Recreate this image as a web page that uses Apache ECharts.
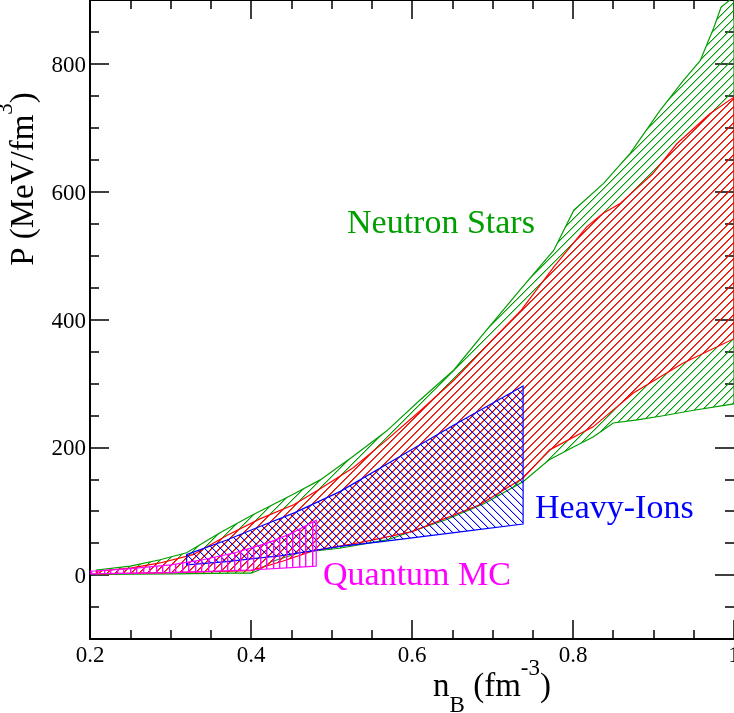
<!DOCTYPE html>
<html><head><meta charset="utf-8">
<script src="https://cdn.jsdelivr.net/npm/echarts@6/dist/echarts.min.js"></script>
<style>html,body{margin:0;padding:0;background:#fff}#c{width:734px;height:713px}</style>
</head><body><div id="c"></div>
<script>
// ---- data (x = n_B in fm^-3, y = P in MeV/fm^3) ----
const nsUpper = [[0.208,8],[0.25,14],[0.287,24],[0.32,35],[0.361,66],[0.40,93],[0.453,127],[0.486,149],[0.527,186],[0.568,225],[0.610,274],[0.652,321],[0.693,384],[0.734,446],[0.776,508],[0.801,571],[0.838,613],[0.871,660],[0.908,727],[0.937,774],[0.958,805],[0.975,857],[0.984,889],[1.0,905]];
const nsLower = [[0.208,1],[0.30,2],[0.38,3],[0.40,3],[0.41,8],[0.425,21],[0.46,35],[0.51,42],[0.569,55],[0.643,87],[0.69,112],[0.738,146],[0.77,180],[0.80,200],[0.825,216],[0.85,238],[0.88,243],[0.91,249],[0.95,258],[0.99,266],[1.0,268]];
const redUpper = [[0.208,6],[0.25,11],[0.287,19],[0.328,32],[0.37,62],[0.411,88],[0.453,110],[0.486,135],[0.527,168],[0.569,212],[0.611,258],[0.652,305],[0.69,355],[0.736,415],[0.776,482],[0.817,545],[0.837,566],[0.858,581],[0.899,628],[0.929,675],[0.97,722],[1.0,748]];
const redLower = [[0.208,2],[0.30,4],[0.40,7],[0.44,22],[0.477,38],[0.54,52],[0.60,68],[0.684,110],[0.738,152],[0.771,196],[0.825,232],[0.875,285],[0.937,332],[1.0,370]];
const hicUpper = [[0.32,32],[0.37,55],[0.411,76],[0.453,97],[0.511,131],[0.569,174],[0.651,234],[0.738,296]];
const hicLower = [[0.32,16],[0.37,21],[0.411,27],[0.436,30],[0.511,45],[0.56,52],[0.65,66],[0.738,80]];
const qmcUpper = [[0.2,6],[0.25,10],[0.30,16],[0.34,24],[0.38,35],[0.42,50],[0.45,65],[0.481,86]];
const qmcLower = [[0.2,2],[0.30,4],[0.40,8],[0.481,14]];
const xMajorTicks = [0.2,0.4,0.6,0.8,1.0];
const yMajorTicks = [0,200,400,600,800];

const X_MIN = 0.2, X_MAX = 1.0, Y_MIN = -100, Y_MAX = 900;
const GREEN = '#009e00', RED = '#ff0000', BLUE = '#0000ff', MAGENTA = '#ff00ff';
const SERIF = '"Liberation Serif"';

function makeHatch(color, kind, alphaNb) {
  const T = kind === 'vert' ? 13 : 8;
  const cv = document.createElement('canvas'); cv.width = T; cv.height = T;
  const ctx = cv.getContext('2d');
  ctx.fillStyle = color;
  if (kind === 'vert') {
    ctx.fillRect(0, 0, 1, T); ctx.fillRect(6, 0, 1, T);
    ctx.globalAlpha = alphaNb; ctx.fillRect(1, 0, 1, T); ctx.fillRect(7, 0, 1, T);
    return cv;
  }
  const px = function (i, j) { ctx.fillRect(((i % T) + T) % T, ((j % T) + T) % T, 1, 1); };
  for (let i = 0; i < T; i++) px(i, kind === 'fwd' ? T - 1 - i : i);
  ctx.globalAlpha = alphaNb;
  for (let i = 0; i < T; i++) px(i + 1, kind === 'fwd' ? T - 1 - i : i);
  return cv;
}

function band(name, upper, lower, color, pattern, z) {
  const verts = upper.concat(lower.slice().reverse());
  return {
    type: 'custom', name: name, coordinateSystem: 'cartesian2d',
    xAxisIndex: 0, yAxisIndex: 0, clip: true, z: z, silent: true,
    data: verts,
    renderItem: function (params, api) {
      if (params.dataIndex !== 0) return null;
      const pts = [];
      for (let i = 0; i < params.dataInsideLength; i++) {
        pts.push(api.coord([api.value(0, i), api.value(1, i)]));
      }
      return {
        type: 'polygon', shape: { points: pts },
        style: { fill: { image: pattern, repeat: 'repeat' }, stroke: color, lineWidth: 1.2 }
      };
    }
  };
}

// tick labels placed through the axes' scales
function tickLabels(values, isX) {
  return {
    type: 'custom', coordinateSystem: 'cartesian2d', xAxisIndex: 0, yAxisIndex: 0,
    clip: false, silent: true, z: 50,
    data: values.map(function (v) { return isX ? [v, 0] : [0.5, v]; }),
    renderItem: function (params, api) {
      if (isX) {
        const v = api.value(0);
        const p = api.coord([v, Y_MIN]);
        return { type: 'text', x: p[0], y: p[1] + 5,
          style: { text: v === 1 ? '1' : v.toFixed(1), font: '23px ' + SERIF, fill: '#000', align: 'center', verticalAlign: 'top' } };
      }
      const v = api.value(1);
      const p = api.coord([X_MIN, v]);
      return { type: 'text', x: p[0] - 4, y: p[1] + 2,
        style: { text: String(v), font: '23px ' + SERIF, fill: '#000', align: 'right', verticalAlign: 'middle' } };
    }
  };
}

const tickStyle = { color: '#000', width: 1.5 };
function xAx(pos, major) {
  const a = {
    type: 'value', position: pos, min: X_MIN, max: X_MAX,
    axisLine: { show: !major, onZero: false, lineStyle: { color: '#000', width: 2 } },
    splitLine: { show: false },
    axisTick: { show: true, inside: true, length: major ? 19 : 9, lineStyle: tickStyle },
    axisLabel: { show: false }
  };
  if (major) a.axisTick.customValues = xMajorTicks; else a.interval = 0.05;
  return a;
}
function yAx(pos, major) {
  const a = {
    type: 'value', position: pos, min: Y_MIN, max: Y_MAX,
    axisLine: { show: !major && pos === 'left', onZero: false, lineStyle: { color: '#000', width: 2 } },
    splitLine: { show: false },
    axisTick: { show: true, inside: true, length: major ? 19 : 9, lineStyle: tickStyle },
    axisLabel: { show: false }
  };
  if (major) a.axisTick.customValues = yMajorTicks; else a.interval = 50;
  return a;
}

const chart = echarts.init(document.getElementById('c'), null, { renderer: 'canvas', width: 734, height: 713 });
chart.setOption({
  animation: false,
  backgroundColor: '#fff',
  grid: { left: 90, right: 0, top: 0, bottom: 74, containLabel: false, outerBoundsMode: 'none' },
  xAxis: [xAx('bottom', false), xAx('bottom', true), xAx('top', false), xAx('top', true)],
  yAxis: [yAx('left', false), yAx('left', true), yAx('right', false), yAx('right', true)],
  series: [
    band('Neutron Stars', nsUpper, nsLower, GREEN, makeHatch(GREEN, 'fwd', 0.45), 1),
    band('Neutron Stars 2', redUpper, redLower, RED, makeHatch(RED, 'fwd', 0.6), 2),
    band('Heavy-Ions', hicUpper, hicLower, BLUE, makeHatch(BLUE, 'back', 0.25), 3),
    band('Quantum MC', qmcUpper, qmcLower, MAGENTA, makeHatch(MAGENTA, 'vert', 0.4), 4),
    tickLabels(xMajorTicks, true),
    tickLabels(yMajorTicks, false)
  ],
  graphic: [
    { type: 'text', x: 24, y: 179, rotation: Math.PI / 2, z: 100,
      style: { text: '{a|P (MeV/fm}{c|3}{a|)}', align: 'center', verticalAlign: 'middle',
        rich: { a: { font: '33px ' + SERIF, lineHeight: 60, fill: '#000' },
                c: { font: '23px ' + SERIF, lineHeight: 37, verticalAlign: 'top', fill: '#000' } } } },
    { type: 'text', x: 492, y: 687, z: 100,
      style: { text: '{a|n}{b|B}{a| (fm}{c|-3}{a|)}', align: 'center', verticalAlign: 'middle',
        rich: { a: { font: '33px ' + SERIF, lineHeight: 60, fill: '#000' },
                b: { font: '23px ' + SERIF, lineHeight: 30, verticalAlign: 'bottom', fill: '#000' },
                c: { font: '23px ' + SERIF, lineHeight: 37, verticalAlign: 'top', fill: '#000' } } } },
    { type: 'text', x: 347, y: 224, z: 100,
      style: { text: 'Neutron Stars', font: '34px ' + SERIF, fill: GREEN, align: 'left', verticalAlign: 'middle' } },
    { type: 'text', x: 535, y: 509, z: 100,
      style: { text: 'Heavy-Ions', font: '34px ' + SERIF, fill: BLUE, align: 'left', verticalAlign: 'middle' } },
    { type: 'text', x: 323, y: 576, z: 100,
      style: { text: 'Quantum MC', font: '34px ' + SERIF, fill: MAGENTA, align: 'left', verticalAlign: 'middle' } }
  ]
});
</script>
</body></html>
